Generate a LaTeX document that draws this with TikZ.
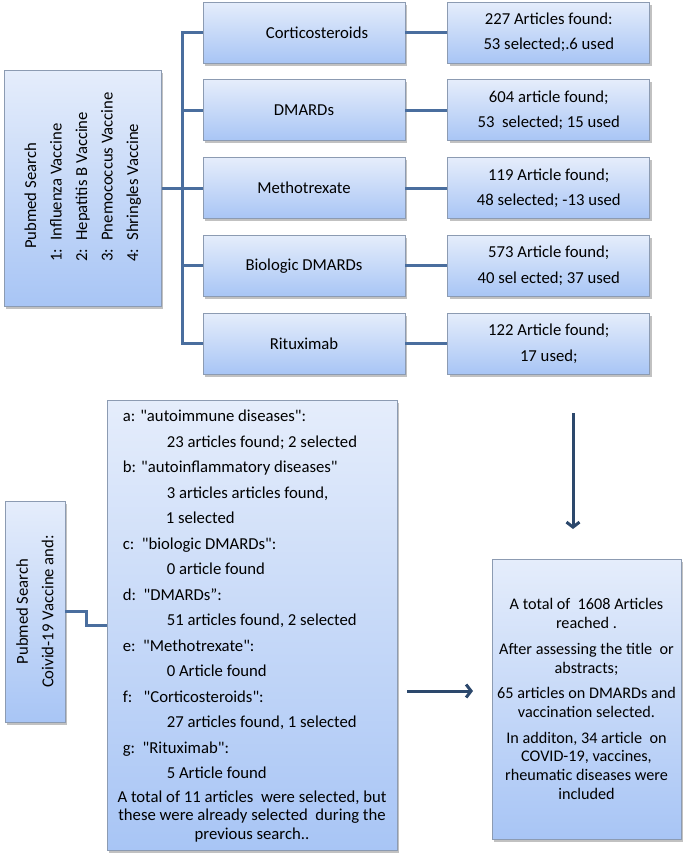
\documentclass[tikz,border=0pt]{standalone}
\usepackage{fontspec}
\setmainfont{Carlito}[Ligatures=TeXOff]
\usepackage{tikz}
\usetikzlibrary{positioning}
\usetikzlibrary{arrows.meta}
\usetikzlibrary{shadows}
\definecolor{boxtop}{RGB}{229,237,251}
\definecolor{boxbottom}{RGB}{168,197,245}
\definecolor{boxline}{RGB}{140,155,178}
\definecolor{linkblue}{RGB}{74,110,158}
\definecolor{arrowblue}{RGB}{44,72,108}
\tikzset{%
    box/.style={rectangle, draw=boxline, line width=0.8pt, top color=boxtop, bottom color=boxbottom,
        drop shadow={shadow xshift=2pt, shadow yshift=-2.5pt, opacity=0.35, fill=black!70},
        inner sep=0pt, align=center, font=\fontsize{16.7}{25.5}\selectfont},
    topic/.style={box, minimum width=202pt, minimum height=61pt},
    boxtext/.style={inner sep=0pt, font=\fontsize{16.7}{25.5}\selectfont},
    link/.style={draw=linkblue, line width=3pt},
    arrow/.style={draw=arrowblue, line width=3pt, -{Straight Barb[length=5pt,width=13pt]}}
}
\begin{document}
\begin{tikzpicture}[x=1pt,y=-1pt]
		\useasboundingbox (0,0) rectangle (685,857);

		% first search
		\node[topic]	(cortico)		at (304,32.5)				{\hspace*{26pt}Corticosteroids};
		\node[topic]	(dmards)		[below=16pt of cortico]		{DMARDs};
		\node[topic]	(mtx)			[below=16pt of dmards]		{Methotrexate};
		\node[topic]	(biologic)		[below=16pt of mtx]			{Biologic DMARDs};
		\node[topic]	(rituximab)		[below=16pt of biologic]	{Rituximab};

		\node[topic]	(corticofound)		[right=42pt of cortico]		{227 Articles found:\\53 selected;.6 used};
		\node[topic]	(dmardsfound)		[right=42pt of dmards]		{604 article found;\\53\ \ selected; 15 used};
		\node[topic]	(mtxfound)			[right=42pt of mtx]			{119 Article found;\\48 selected; -13 used};
		\node[topic]	(biologicfound)		[right=42pt of biologic]	{573 Article found;\\40 sel ected; 37 used};
		\node[topic]	(rituximabfound)	[right=42pt of rituximab]	{122 Article found;\\17 used;};

		\node[box,minimum width=157pt,minimum height=236pt]	(pubmed)	[left=41pt of mtx]	{};
		\node[boxtext,rotate=90,align=left]				(pubmedtext)	at ([yshift=11pt]pubmed.center)
			{\hspace*{13pt}Pubmed Search\\1:\enspace Influenza Vaccine\\2:\enspace Hepatitis B Vaccine\\3:\enspace Pnemococcus Vaccine\\4:\enspace Shringles Vaccine};

		\path[link]
		(pubmed.east)	--	(mtx.west)
		(cortico.west)	-- ++(-20,0) |-	(rituximab.west)
		(dmards.west)	-- ++(-20,0)
		(biologic.west)	-- ++(-20,0)
		(cortico)	--	(corticofound)
		(dmards)	--	(dmardsfound)
		(mtx)		--	(mtxfound)
		(biologic)	--	(biologicfound)
		(rituximab)	--	(rituximabfound);

		% covid search
		\node[box,minimum width=60pt,minimum height=221pt]	(covid)		at (35,611.5)	{};
		\node[boxtext,rotate=90,align=center]			(covidtext)	at (covid.center)
			{Pubmed Search\\Coivid-19 Vaccine and:};

		\node[box,minimum width=290pt,minimum height=450pt]	(terms)		at (252,625)	{};
		\node[boxtext,align=left,anchor=north west]		(termstext)	at ([xshift=16pt,yshift=-10.5pt]terms.north west)
			{a: "autoimmune diseases":\\
			\hspace*{44pt}23 articles found; 2 selected\\
			b: "autoinflammatory diseases"\\
			\hspace*{44pt}3 articles articles found,\\
			\hspace*{43pt}1 selected\\
			c:\ \ "biologic DMARDs":\\
			\hspace*{44pt}0 article found\\
			d:\ \ "DMARDs”:\\
			\hspace*{44pt}51 articles found, 2 selected\\
			e:\ \ "Methotrexate":\\
			\hspace*{44pt}0 Article found\\
			f:\ \ \ "Corticosteroids":\\
			\hspace*{44pt}27 articles found, 1 selected\\
			g:\ \ "Rituximab":\\
			\hspace*{44pt}5 Article found};
		\node[boxtext,align=center,anchor=south,font=\fontsize{16.7}{18.7}\selectfont]	(termstotal)	at ([yshift=8pt]terms.south)
			{A total of 11 articles\ \ were selected, but\\these were already selected\ \ during the\\previous search..};

		\path[link]
		(covid.east)	-- ++(21,0) |-	(terms.west);

		% result
		\node[box,minimum width=189pt,minimum height=280pt,font=\fontsize{16.2}{18.7}\selectfont]	(result)	at (586.5,699)
			{A total of\ \ 1608 Articles\\reached .\\[7pt]After assessing the title\ \ or\\abstracts;\\[7pt]65 articles on DMARDs and\\vaccination selected.\\[7pt]In additon, 34 article\ \ on\\COVID-19, vaccines,\\rheumatic diseases were\\included};

		\coordinate	(downstart)	at (573,413);
		\coordinate	(downend)	at (573,529);
		\coordinate	(rightstart)	at (407,691);
		\coordinate	(rightend)	at (473,691);

		\path[arrow]	(downstart)	--	(downend);
		\path[arrow]	(rightstart)	--	(rightend);
	\end{tikzpicture}
\end{document}
